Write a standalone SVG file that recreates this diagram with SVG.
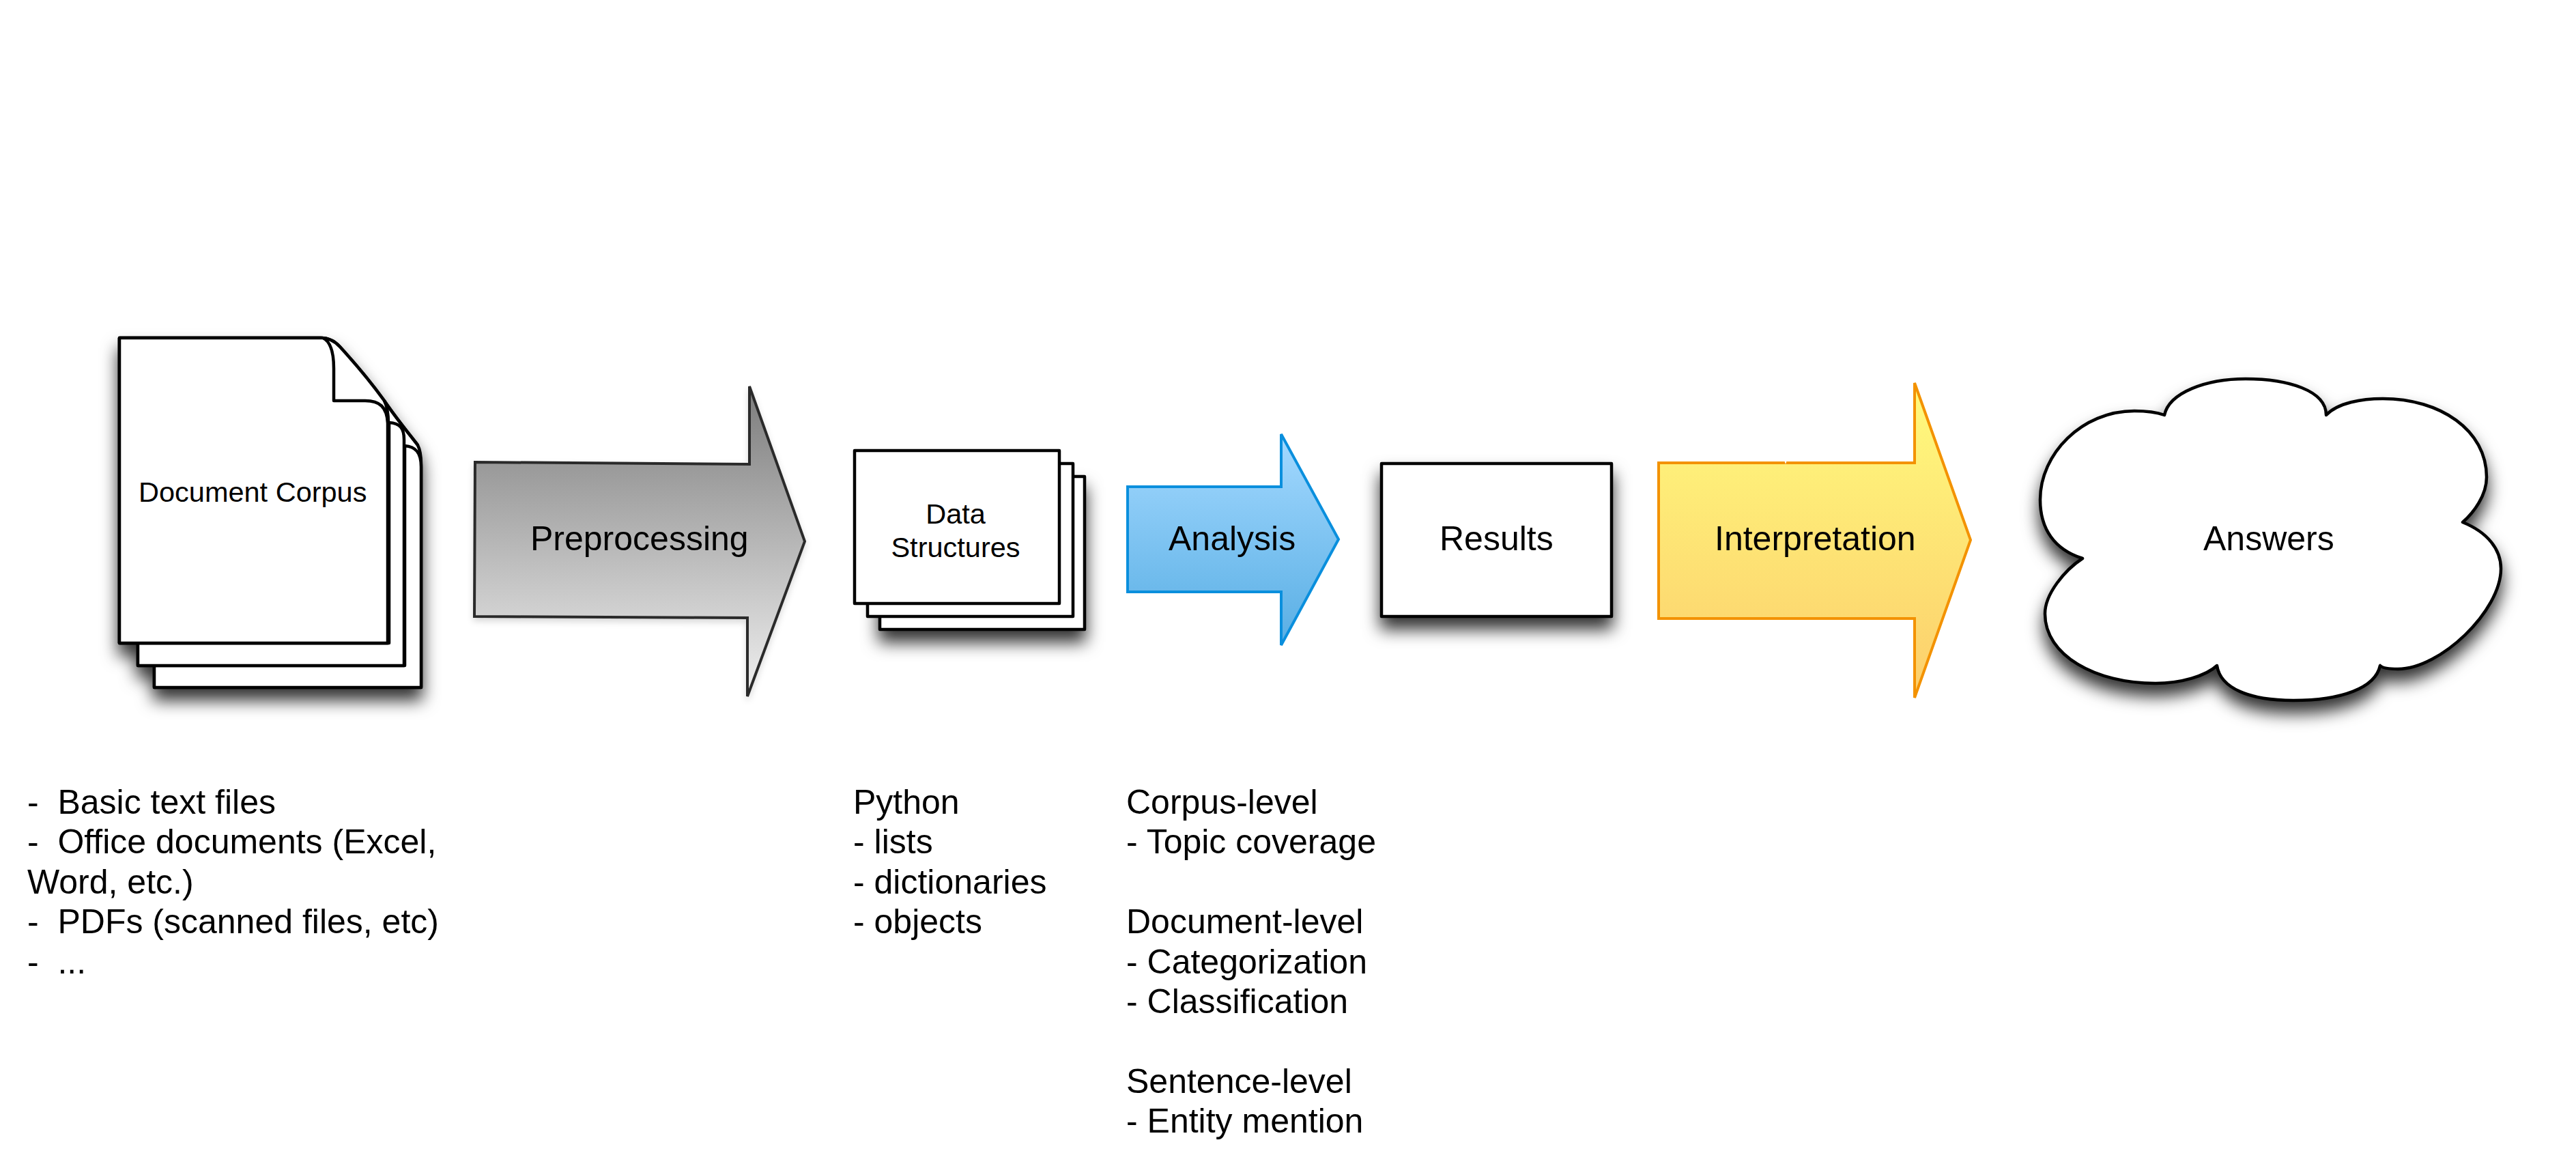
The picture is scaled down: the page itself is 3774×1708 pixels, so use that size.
<svg xmlns="http://www.w3.org/2000/svg" width="3774" height="1708" viewBox="0 0 3774 1708">
<style>
text{font-family:"Liberation Sans",Arial,sans-serif;fill:#000;white-space:pre}
.l{font-size:50px}
.s{font-size:41.5px}
.k{fill:#fff;stroke:#000;stroke-width:4.5;stroke-linejoin:round}
.c{fill:none;stroke:#000;stroke-width:4.5}
.a{stroke-width:4;stroke-linejoin:miter}
</style>
<defs>
<filter id="sh" x="-20%" y="-20%" width="140%" height="150%"><feDropShadow dx="0" dy="17" stdDeviation="12" flood-color="#000" flood-opacity="0.8"/></filter>
<filter id="sh2" x="-10%" y="-10%" width="120%" height="120%"><feDropShadow dx="0" dy="5" stdDeviation="5" flood-color="#000" flood-opacity="0.15"/></filter>
<linearGradient id="gG" x1="0" y1="0" x2="0" y2="1"><stop offset="0" stop-color="#7c7c7c"/><stop offset="1" stop-color="#f0f0f0"/></linearGradient>
<linearGradient id="gB" x1="0" y1="0" x2="0" y2="1"><stop offset="0" stop-color="#a4d9ff"/><stop offset="1" stop-color="#58aee4"/></linearGradient>
<linearGradient id="gY" x1="0" y1="0" x2="0" y2="1"><stop offset="0" stop-color="#fffb7e"/><stop offset="1" stop-color="#fcce6c"/></linearGradient>
</defs>

<g id="document-corpus">
<path class="k" filter="url(#sh)" d="M175 495H470C482 495 490 499 498 508C520 532 545 562 563 587C582 615 603 640 612 652C615 658 617 665 617 680V1007H226V975H202V942H175Z"/>
<path class="k" d="M593 653C608 654 617 662 617 684V1007H226V975H593Z"/>
<path class="k" d="M570 619C586 620 592 627 592 644V975H202V942H570Z"/>
<path class="k" d="M175 495H470C482 495 490 499 498 508C520 532 545 562 563 587C567 595 569 605 569 620V942H175Z"/>
<path class="k" d="M473 495C484 500 489 515 489 540V587H535C556 587 567 596 568 620V942H175V495Z"/>
<path class="c" d="M563 587C582 615 603 640 612 652"/>
<text class="s" x="203" y="735">Document Corpus</text>
</g>

<g id="connectors">
<g id="preprocessing">
<path class="a" filter="url(#sh2)" fill="url(#gG)" stroke="#2b2b2b" d="M696 677L1098 680V566L1179 793L1095 1020V905L695 903Z"/>
<text class="l" x="777" y="806">Preprocessing</text>
</g>
<g id="analysis">
<path class="a" fill="url(#gB)" stroke="#0a8fdd" d="M1652 713H1877V636L1961 790L1877 945V867H1652Z"/>
<text class="l" x="1712" y="806">Analysis</text>
</g>
<g id="interpretation">
<path class="a" fill="url(#gY)" stroke="#f39200" d="M2430 678H2805V561L2887 791L2805 1022V906H2430Z"/>
<path d="M2614 674L2618 674L2616 680Z" fill="#fff"/>
<text class="l" x="2512" y="806">Interpretation</text>
</g>
</g>

<g id="data-structures">
<rect class="k" x="1289" y="698" width="300" height="224" filter="url(#sh)"/>
<rect class="k" x="1271" y="679" width="301" height="224"/>
<rect class="k" x="1252" y="660" width="300" height="224"/>
<text class="s" x="1400" y="767" text-anchor="middle">Data</text>
<text class="s" x="1400" y="816" text-anchor="middle">Structures</text>
</g>

<g id="results">
<rect class="k" x="2024" y="679" width="337" height="224" filter="url(#sh)"/>
<text class="l" x="2109" y="806">Results</text>
</g>

<g id="answers">
<path class="k" filter="url(#sh)" d="M3171 608C3178 575 3232 555 3290 555C3352 555 3408 572 3408 608C3425 590 3460 584 3491 584C3575 584 3643 630 3643 699C3643 725 3625 750 3608 765C3645 780 3664 805 3664 833C3664 895 3575 980 3513 980C3500 980 3490 978 3487 975C3480 1008 3430 1026 3360 1026C3295 1026 3253 1008 3248 975C3232 990 3195 1001 3158 1001C3070 1001 2996 960 2996 899C2996 870 3025 835 3051 818C3010 805 2989 775 2989 732C2989 665 3050 602 3127 602C3145 602 3160 604 3171 608Z"/>
<text class="l" x="3228" y="806">Answers</text>
</g>

<g id="caption-corpus">
<text class="l" x="40" y="1192">-  Basic text files</text>
<text class="l" x="40" y="1250">-  Office documents (Excel,</text>
<text class="l" x="40" y="1309">Word, etc.)</text>
<text class="l" x="40" y="1367">-  PDFs (scanned files, etc)</text>
<text class="l" x="40" y="1426">-  ...</text>
</g>
<g id="caption-structures">
<text class="l" x="1250" y="1192">Python</text>
<text class="l" x="1250" y="1250">- lists</text>
<text class="l" x="1250" y="1309">- dictionaries</text>
<text class="l" x="1250" y="1367">- objects</text>
</g>
<g id="caption-analysis">
<text class="l" x="1650" y="1192">Corpus-level</text>
<text class="l" x="1650" y="1250">- Topic coverage</text>
<text class="l" x="1650" y="1367">Document-level</text>
<text class="l" x="1650" y="1426">- Categorization</text>
<text class="l" x="1650" y="1484">- Classification</text>
<text class="l" x="1650" y="1601">Sentence-level</text>
<text class="l" x="1650" y="1659">- Entity mention</text>
</g>
</svg>
